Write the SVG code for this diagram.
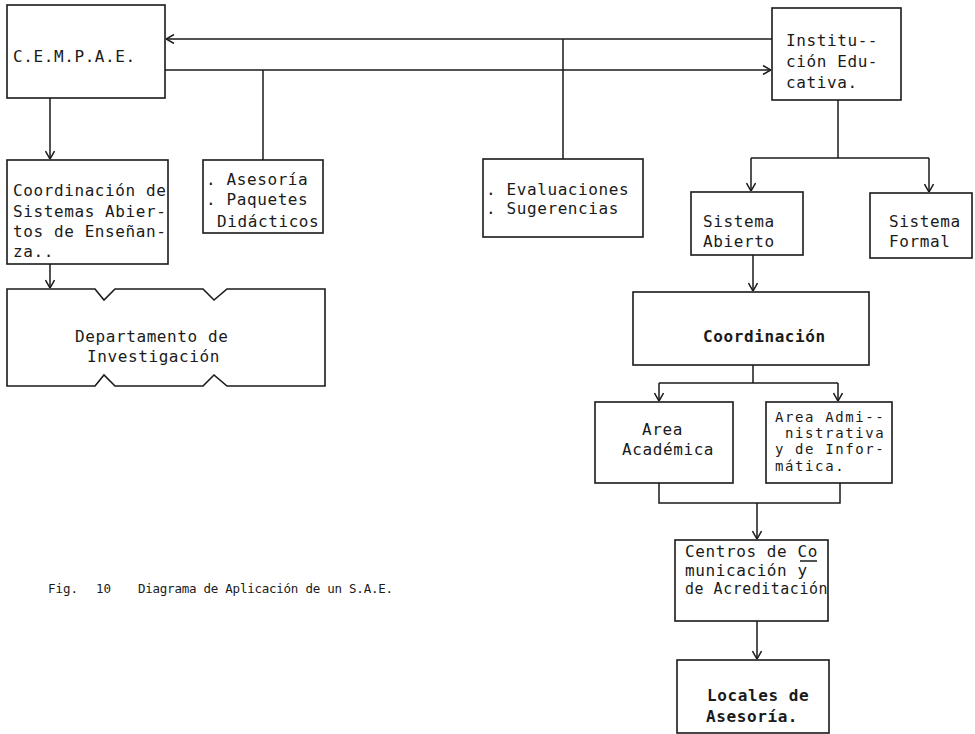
<svg xmlns="http://www.w3.org/2000/svg" width="975" height="734" viewBox="0 0 975 734">
<style>
.b{fill:#fff;stroke:#1a1a1a;stroke-width:1.6}
.c{fill:none;stroke:#1a1a1a;stroke-width:1.5}
text{font-family:"DejaVu Sans Mono","Liberation Mono",monospace;font-size:16px;letter-spacing:0.6px;fill:#1a1a1a}
.s{font-size:14px;letter-spacing:1.6px}
.bd{font-weight:bold}
.cap{font-size:12.5px;letter-spacing:0px}
</style>
<defs>
<marker id="a" viewBox="0 0 10 10" refX="10" refY="5" markerWidth="10" markerHeight="10" markerUnits="userSpaceOnUse" orient="auto">
<path d="M2,0.5 L10,5 L2,9.5" fill="none" stroke="#1a1a1a" stroke-width="1.5"/>
</marker>
</defs>
<rect width="975" height="734" fill="#fff"/>
<g id="connectors">
<line class="c" x1="772" y1="39" x2="166" y2="39" marker-end="url(#a)"/>
<line class="c" x1="165" y1="70" x2="771" y2="70" marker-end="url(#a)"/>
<line class="c" x1="263" y1="70" x2="263" y2="160"/>
<line class="c" x1="563" y1="39" x2="563" y2="159"/>
<line class="c" x1="50" y1="98" x2="50" y2="159" marker-end="url(#a)"/>
<line class="c" x1="50" y1="264" x2="50" y2="288" marker-end="url(#a)"/>
<line class="c" x1="838" y1="100" x2="838" y2="158"/>
<polyline class="c" points="751,158 929,158"/>
<line class="c" x1="751" y1="158" x2="751" y2="191" marker-end="url(#a)"/>
<line class="c" x1="929" y1="158" x2="929" y2="192" marker-end="url(#a)"/>
<line class="c" x1="753" y1="255" x2="753" y2="291" marker-end="url(#a)"/>
<line class="c" x1="753" y1="365" x2="753" y2="383"/>
<line class="c" x1="659" y1="383" x2="838" y2="383"/>
<line class="c" x1="659" y1="383" x2="659" y2="401" marker-end="url(#a)"/>
<line class="c" x1="838" y1="383" x2="838" y2="401" marker-end="url(#a)"/>
<polyline class="c" points="659,483 659,503 840,503 840,482"/>
<line class="c" x1="757" y1="503" x2="757" y2="539" marker-end="url(#a)"/>
<line class="c" x1="757" y1="621" x2="757" y2="659" marker-end="url(#a)"/>
</g>
<g id="cempae">
<rect class="b" x="7" y="5" width="158" height="93"/>
<text x="13" y="62">C.E.M.P.A.E.</text>
</g>
<g id="institucion">
<rect class="b" x="772" y="8" width="129" height="92"/>
<text x="786" y="46">Institu--</text>
<text x="786" y="67">ción Edu-</text>
<text x="786" y="88">cativa.</text>
</g>
<g id="coord-sistemas">
<rect class="b" x="7" y="160" width="161" height="104"/>
<text x="13" y="196">Coordinación de</text>
<text x="13" y="217">Sistemas Abier-</text>
<text x="13" y="237">tos de Enseñan-</text>
<text x="13" y="257">za..</text>
</g>
<g id="asesoria">
<rect class="b" x="203" y="160" width="120" height="73"/>
<text x="206" y="185">. Asesoría</text>
<text x="206" y="205">. Paquetes</text>
<text x="217" y="227">Didácticos</text>
</g>
<g id="evaluaciones">
<rect class="b" x="483" y="159" width="160" height="78"/>
<text x="486" y="195">. Evaluaciones</text>
<text x="486" y="214">. Sugerencias</text>
</g>
<g id="departamento">
<path class="b" d="M7,289 H95 L104,300 L115,289 H203 L214,300 L227,289 H325 V386 H227 L214,375 L203,386 H115 L104,375 L95,386 H7 Z"/>
<text x="75" y="342">Departamento de</text>
<text x="87" y="362">Investigación</text>
</g>
<g id="sistema-abierto">
<rect class="b" x="691" y="192" width="112" height="63"/>
<text x="703" y="227">Sistema</text>
<text x="703" y="247">Abierto</text>
</g>
<g id="sistema-formal">
<rect class="b" x="870" y="193" width="102" height="65"/>
<text x="889" y="227">Sistema</text>
<text x="889" y="247">Formal</text>
</g>
<g id="coordinacion">
<rect class="b" x="633" y="292" width="236" height="73"/>
<text class="bd" x="703" y="342">Coordinación</text>
</g>
<g id="area-academica">
<rect class="b" x="595" y="402" width="138" height="81"/>
<text x="642" y="435">Area</text>
<text x="622" y="455">Académica</text>
</g>
<g id="area-administrativa">
<rect class="b" x="766" y="402" width="126" height="81"/>
<text class="s" x="775" y="422">Area Admi--</text>
<text class="s" x="785" y="438">nistrativa</text>
<text class="s" x="775" y="454">y de Infor-</text>
<text class="s" x="775" y="471">mática.</text>
</g>
<g id="centros">
<rect class="b" x="675" y="540" width="153" height="81"/>
<text x="685" y="557">Centros de Co</text>
<line class="c" x1="800" y1="561" x2="817" y2="561"/>
<text x="685" y="576">municación  y</text>
<text x="685" y="594" textLength="143" lengthAdjust="spacingAndGlyphs">de Acreditación</text>
</g>
<g id="locales">
<rect class="b" x="677" y="660" width="152" height="73"/>
<text class="bd" x="707" y="701">Locales de</text>
<text class="bd" x="706" y="722">Asesoría.</text>
</g>
<g id="caption">
<text class="cap" x="48" y="593">Fig.</text>
<text class="cap" x="96" y="593">10</text>
<text class="cap" x="138" y="593" textLength="255" lengthAdjust="spacing">Diagrama de Aplicación de un S.A.E.</text>
</g>
</svg>
